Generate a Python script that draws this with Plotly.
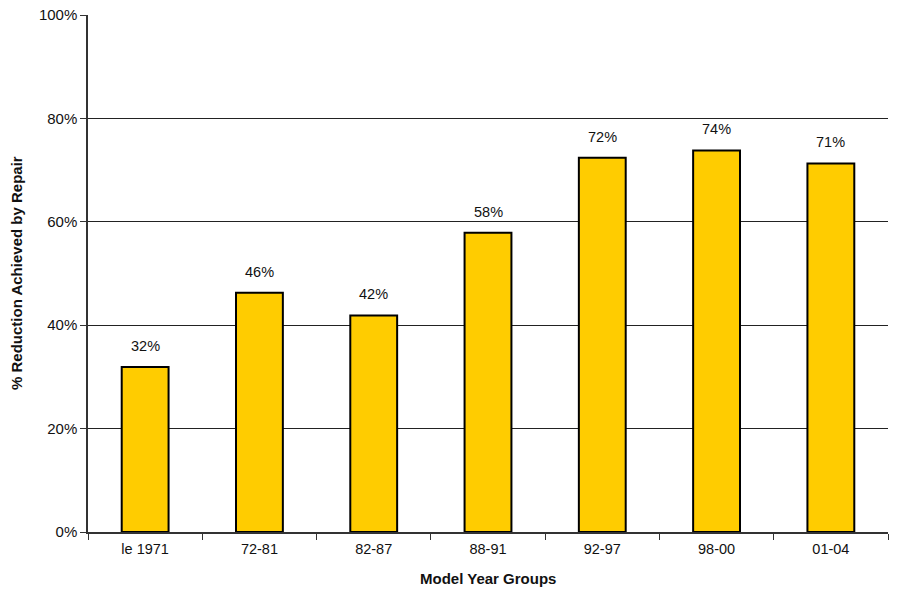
import plotly.graph_objects as go

categories = ["le 1971", "72-81", "82-87", "88-91", "92-97", "98-00", "01-04"]
values = [31.9, 46.3, 41.9, 57.9, 72.4, 73.8, 71.3]
labels = ["32%", "46%", "42%", "58%", "72%", "74%", "71%"]

FONT = "Liberation Sans, Arial"

fig = go.Figure()
fig.add_trace(go.Bar(
    x=categories, y=values,
    marker=dict(color="#FFCC00", line=dict(color="black", width=2)),
    width=0.41,
))
for c, v, t in zip(categories, values, labels):
    fig.add_annotation(x=c, y=v, text=t, showarrow=False, yshift=21,
                       font=dict(family=FONT, size=14.5, color="#111"))

fig.add_annotation(xref="paper", yref="paper", x=0.5, y=0, yshift=-57,
                   text="<b>Model Year Groups</b>", showarrow=False,
                   font=dict(family=FONT, size=15, color="#111"))
fig.add_annotation(xref="paper", yref="paper", x=0, y=0.5, xshift=-82,
                   text="<b>% Reduction Achieved by Repair</b>", showarrow=False,
                   textangle=-90,
                   font=dict(family=FONT, size=15, color="#111"))

fig.update_layout(
    width=898, height=590,
    margin=dict(l=88, r=10, t=15, b=58),
    plot_bgcolor="white", paper_bgcolor="white",
    showlegend=False,
    font=dict(family=FONT, size=14, color="#111"),
)
fig.update_xaxes(
    type="category", automargin=False,
    showline=True, linecolor="#333", linewidth=1.5,
    ticks="outside", tickson="boundaries", ticklen=6, tickcolor="#333",
    tickfont=dict(size=14.5), ticklabelstandoff=3,
)
fig.update_yaxes(
    range=[0, 100], dtick=20, ticksuffix="%", automargin=False,
    showline=True, linecolor="#333", linewidth=1.5,
    ticks="outside", ticklen=6, tickcolor="#333",
    showgrid=True, gridcolor="#222", gridwidth=1,
    tickfont=dict(size=15),
    zeroline=False,
)
fig.write_html("out.html")
